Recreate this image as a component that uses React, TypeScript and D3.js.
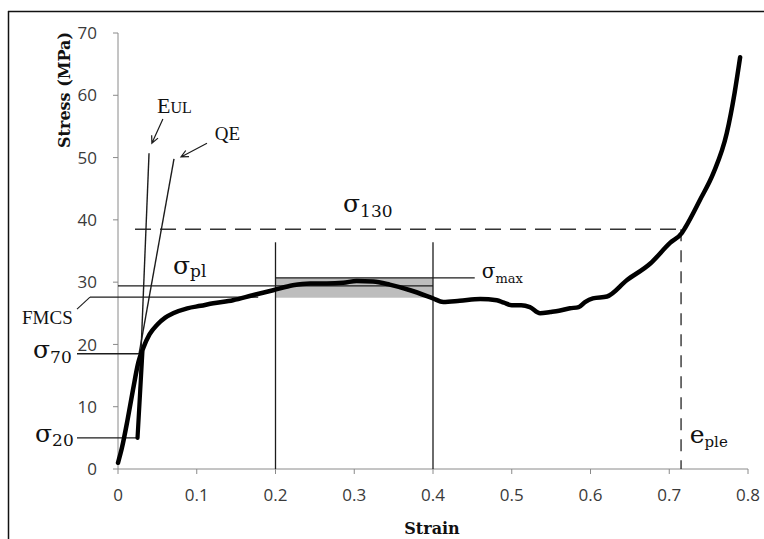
import React from 'react';
import * as d3 from 'd3';

// ---- data ----
const STRAIN = [0, 0.005, 0.012, 0.019, 0.026, 0.032, 0.04, 0.05, 0.06, 0.07, 0.088, 0.105, 0.121, 0.146, 0.171, 0.197, 0.222, 0.244, 0.265, 0.286, 0.303, 0.324, 0.345, 0.371, 0.4, 0.413, 0.434, 0.46, 0.481, 0.49, 0.5, 0.512, 0.523, 0.536, 0.549, 0.56, 0.574, 0.585, 0.593, 0.603, 0.621, 0.646, 0.676, 0.701, 0.716, 0.72, 0.739, 0.756, 0.773, 0.783, 0.79];
const STRESS = [1.0, 3.4, 7.8, 12.7, 17.2, 19.4, 21.6, 23.2, 24.3, 25.0, 25.8, 26.2, 26.6, 27.1, 27.9, 28.7, 29.5, 29.8, 29.8, 29.9, 30.2, 30.1, 29.6, 28.7, 27.4, 26.8, 27.0, 27.3, 27.1, 26.7, 26.3, 26.3, 26.0, 25.0, 25.2, 25.4, 25.8, 26.0, 26.8, 27.4, 27.7, 30.3, 33.0, 36.3, 37.9, 38.7, 43.2, 47.5, 53.9, 60.4, 66.1];
const UNLOAD_STRAIN = [0.0248, 0.031];
const UNLOAD_STRESS = [5.0, 18.8];
const EUL_STRAIN = [0.0248, 0.0394];
const EUL_STRESS = [5.0, 50.7];
const QE_STRAIN = [0.0267, 0.0711];
const QE_STRESS = [18.5, 49.8];

const X_TICKS = [0, 0.1, 0.2, 0.3, 0.4, 0.5, 0.6, 0.7, 0.8];
const X_TICK_LABELS = ['0', '0.1', '0.2', '0.3', '0.4', '0.5', '0.6', '0.7', '0.8'];
const Y_TICKS = [0, 10, 20, 30, 40, 50, 60, 70];
const Y_TICK_LABELS = ['0', '10', '20', '30', '40', '50', '60', '70'];

const SIGMA_PL = 29.4;
const SIGMA_FMCS = 27.6;
const SIGMA_MAX = 30.7;
const SIGMA_70 = 18.5;
const SIGMA_20 = 5.0;
const SIGMA_130 = 38.5;
const E_PLE = 0.715;
const WINDOW = [0.2, 0.4];
const WINDOW_TOP = 36.4;
const BAND_LOW = 27.5;
const FMCS_END = 0.178;
const SIGMA_MAX_END = 0.453;
const SIGMA_130_START = 0.0216;

const W = 764;
const H = 539;

const SERIF = '"DejaVu Serif", serif';
const TIMES = '"Liberation Serif", "Times New Roman", serif';
const SANS = '"Open Sans", "Noto Sans", sans-serif';

function arrowPath(x1: number, y1: number, x2: number, y2: number, len = 8, ang = 0.45) {
  const a = Math.atan2(y2 - y1, x2 - x1);
  const hx1 = x2 - len * Math.cos(a - ang);
  const hy1 = y2 - len * Math.sin(a - ang);
  const hx2 = x2 - len * Math.cos(a + ang);
  const hy2 = y2 - len * Math.sin(a + ang);
  return `M${x1},${y1}L${x2},${y2}M${hx1},${hy1}L${x2},${y2}L${hx2},${hy2}`;
}

export default function App() {
  const x = d3.scaleLinear().domain([0, 0.8]).range([118, 748]);
  const y = d3.scaleLinear().domain([0, 70]).range([469, 33]);

  const pts: [number, number][] = STRAIN.map((s, i) => [s, STRESS[i]]);
  const curve = d3
    .line<[number, number]>()
    .x((d) => x(d[0]))
    .y((d) => y(d[1]))
    .curve(d3.curveMonotoneX);
  const straight = d3
    .line<[number, number]>()
    .x((d) => x(d[0]))
    .y((d) => y(d[1]));

  const unload: [number, number][] = UNLOAD_STRAIN.map((s, i) => [s, UNLOAD_STRESS[i]]);
  const eul: [number, number][] = EUL_STRAIN.map((s, i) => [s, EUL_STRESS[i]]);
  const qe: [number, number][] = QE_STRAIN.map((s, i) => [s, QE_STRESS[i]]);

  const axisColor = '#8a8a8a';
  const thin = '#1c1c1c';
  const x0 = x(0);

  return (
    <svg
      width={W}
      height={H}
      style={{ position: 'absolute', left: 0, top: 0, background: '#fff' }}
    >
      <rect x={0} y={0} width={W} height={H} fill="#fff" />
      {/* frame */}
      <line x1={8.5} y1={11} x2={8.5} y2={H} stroke="#111" strokeWidth={1.5} />
      <line x1={8} y1={11.5} x2={W} y2={11.5} stroke="#111" strokeWidth={1.5} />

      {/* gray band */}
      <rect
        x={x(WINDOW[0])}
        y={y(SIGMA_MAX)}
        width={x(WINDOW[1]) - x(WINDOW[0])}
        height={y(BAND_LOW) - y(SIGMA_MAX)}
        fill="#bdbdbd"
      />

      {/* axes */}
      <line x1={x0} y1={y(0)} x2={x0} y2={y(70)} stroke={axisColor} strokeWidth={1} />
      <line x1={x0} y1={y(0)} x2={x(0.8)} y2={y(0)} stroke={axisColor} strokeWidth={1} />
      {Y_TICKS.map((t, i) => (
        <g key={'yt' + t}>
          <line x1={x0 - 5} x2={x0} y1={y(t)} y2={y(t)} stroke={axisColor} />
          <text
            x={x0 - 21}
            y={y(t)}
            dy="0.36em"
            textAnchor="end"
            fontFamily={SANS}
            fontSize={17}
            fill="#3a3a3a"
          >
            {Y_TICK_LABELS[i]}
          </text>
        </g>
      ))}
      {X_TICKS.map((t, i) => (
        <g key={'xt' + t}>
          <line x1={x(t)} x2={x(t)} y1={y(0)} y2={y(0) + 5} stroke={axisColor} />
          <text
            x={x(t)}
            y={501}
            textAnchor="middle"
            fontFamily={SANS}
            fontSize={17}
            fill="#3a3a3a"
          >
            {X_TICK_LABELS[i]}
          </text>
        </g>
      ))}

      {/* axis titles */}
      <text
        transform={`translate(70,${y(70) - 1}) rotate(-90)`}
        textAnchor="end"
        fontFamily={SERIF}
        fontWeight="bold"
        fontSize={16}
        fill="#111"
      >
        Stress (MPa)
      </text>
      <text
        x={432}
        y={534}
        textAnchor="middle"
        fontFamily={SERIF}
        fontWeight="bold"
        fontSize={16}
        fill="#111"
      >
        Strain
      </text>

      {/* window verticals */}
      {WINDOW.map((w) => (
        <line key={'w' + w} x1={x(w)} x2={x(w)} y1={y(0)} y2={y(WINDOW_TOP)} stroke={thin} strokeWidth={1.3} />
      ))}

      {/* horizontal reference lines */}
      <line x1={x0} x2={x(WINDOW[1])} y1={y(SIGMA_PL)} y2={y(SIGMA_PL)} stroke={thin} strokeWidth={1.3} />
      <line x1={x(WINDOW[0])} x2={x(SIGMA_MAX_END)} y1={y(SIGMA_MAX)} y2={y(SIGMA_MAX)} stroke={thin} strokeWidth={1.3} />
      <line x1={x0 - 28} x2={x(FMCS_END)} y1={y(SIGMA_FMCS)} y2={y(SIGMA_FMCS)} stroke={thin} strokeWidth={1.3} />
      <line x1={x0 - 28} x2={x0 - 41} y1={y(SIGMA_FMCS)} y2={y(SIGMA_FMCS) + 12} stroke={thin} strokeWidth={1.1} />
      <line x1={x0 - 41} x2={x(0.028)} y1={y(SIGMA_70)} y2={y(SIGMA_70)} stroke={thin} strokeWidth={1.3} />
      <line x1={x0 - 41} x2={x(UNLOAD_STRAIN[0])} y1={y(SIGMA_20)} y2={y(SIGMA_20)} stroke={thin} strokeWidth={1.3} />

      {/* dashed */}
      <line
        x1={x(SIGMA_130_START)}
        x2={x(E_PLE)}
        y1={y(SIGMA_130)}
        y2={y(SIGMA_130)}
        stroke="#333"
        strokeWidth={1.4}
        strokeDasharray="16 9"
      />
      <line
        x1={x(E_PLE)}
        x2={x(E_PLE)}
        y1={y(SIGMA_130)}
        y2={y(0)}
        stroke="#333"
        strokeWidth={1.4}
        strokeDasharray="12 9"
      />

      {/* modulus lines */}
      <path d={straight(eul) || ''} stroke={thin} strokeWidth={1.4} fill="none" />
      <path d={straight(qe) || ''} stroke={thin} strokeWidth={1.4} fill="none" />

      {/* arrows */}
      <path d={arrowPath(x(0.057), y(56.2), x(0.043), y(52.3))} stroke={thin} strokeWidth={1.2} fill="none" />
      <path d={arrowPath(x(0.113), y(52.3), x(0.08), y(50.1))} stroke={thin} strokeWidth={1.2} fill="none" />

      {/* curves */}
      <path d={straight(unload) || ''} stroke="#000" strokeWidth={4.2} fill="none" strokeLinecap="round" />
      <path d={curve(pts) || ''} stroke="#000" strokeWidth={4.5} fill="none" strokeLinejoin="round" strokeLinecap="round" />

      {/* labels */}
      <text x={x(0.0495)} y={y(57.1)} fontFamily={TIMES} fill="#111">
        <tspan fontSize={22}>E</tspan>
        <tspan fontSize={16}>UL</tspan>
      </text>
      <text x={x(0.123)} y={y(52.8)} fontFamily={TIMES} fontSize={19} fill="#111">
        QE
      </text>
      <text x={x0 - 96} y={y(SIGMA_FMCS) + 27} fontFamily={TIMES} fontSize={19} fill="#111">
        FMCS
      </text>
      <text x={x0 - 85} y={y(SIGMA_70) + 4} fontFamily={SERIF} fill="#111">
        <tspan fontSize={25}>σ</tspan>
        <tspan fontSize={17} dy={5}>70</tspan>
      </text>
      <text x={x0 - 83} y={y(SIGMA_20) + 4} fontFamily={SERIF} fill="#111">
        <tspan fontSize={25}>σ</tspan>
        <tspan fontSize={17} dy={4}>20</tspan>
      </text>
      <text x={x(0.0698)} y={y(SIGMA_PL) - 12} fontFamily={SERIF} fill="#111">
        <tspan fontSize={25}>σ</tspan>
        <tspan fontSize={17} dy={3}>pl</tspan>
      </text>
      <text x={x(0.2857)} y={y(SIGMA_130) - 17} fontFamily={SERIF} fill="#111">
        <tspan fontSize={25}>σ</tspan>
        <tspan fontSize={17} dy={5}>130</tspan>
      </text>
      <text x={x(0.462)} y={y(SIGMA_MAX)} fontFamily={SERIF} fill="#111">
        <tspan fontSize={20}>σ</tspan>
        <tspan fontSize={13} dy={5}>max</tspan>
      </text>
      <text x={x(0.726)} y={y(4.17)} fontFamily={SERIF} fill="#111">
        <tspan fontSize={25}>e</tspan>
        <tspan fontSize={15} dy={4}>ple</tspan>
      </text>
    </svg>
  );
}
